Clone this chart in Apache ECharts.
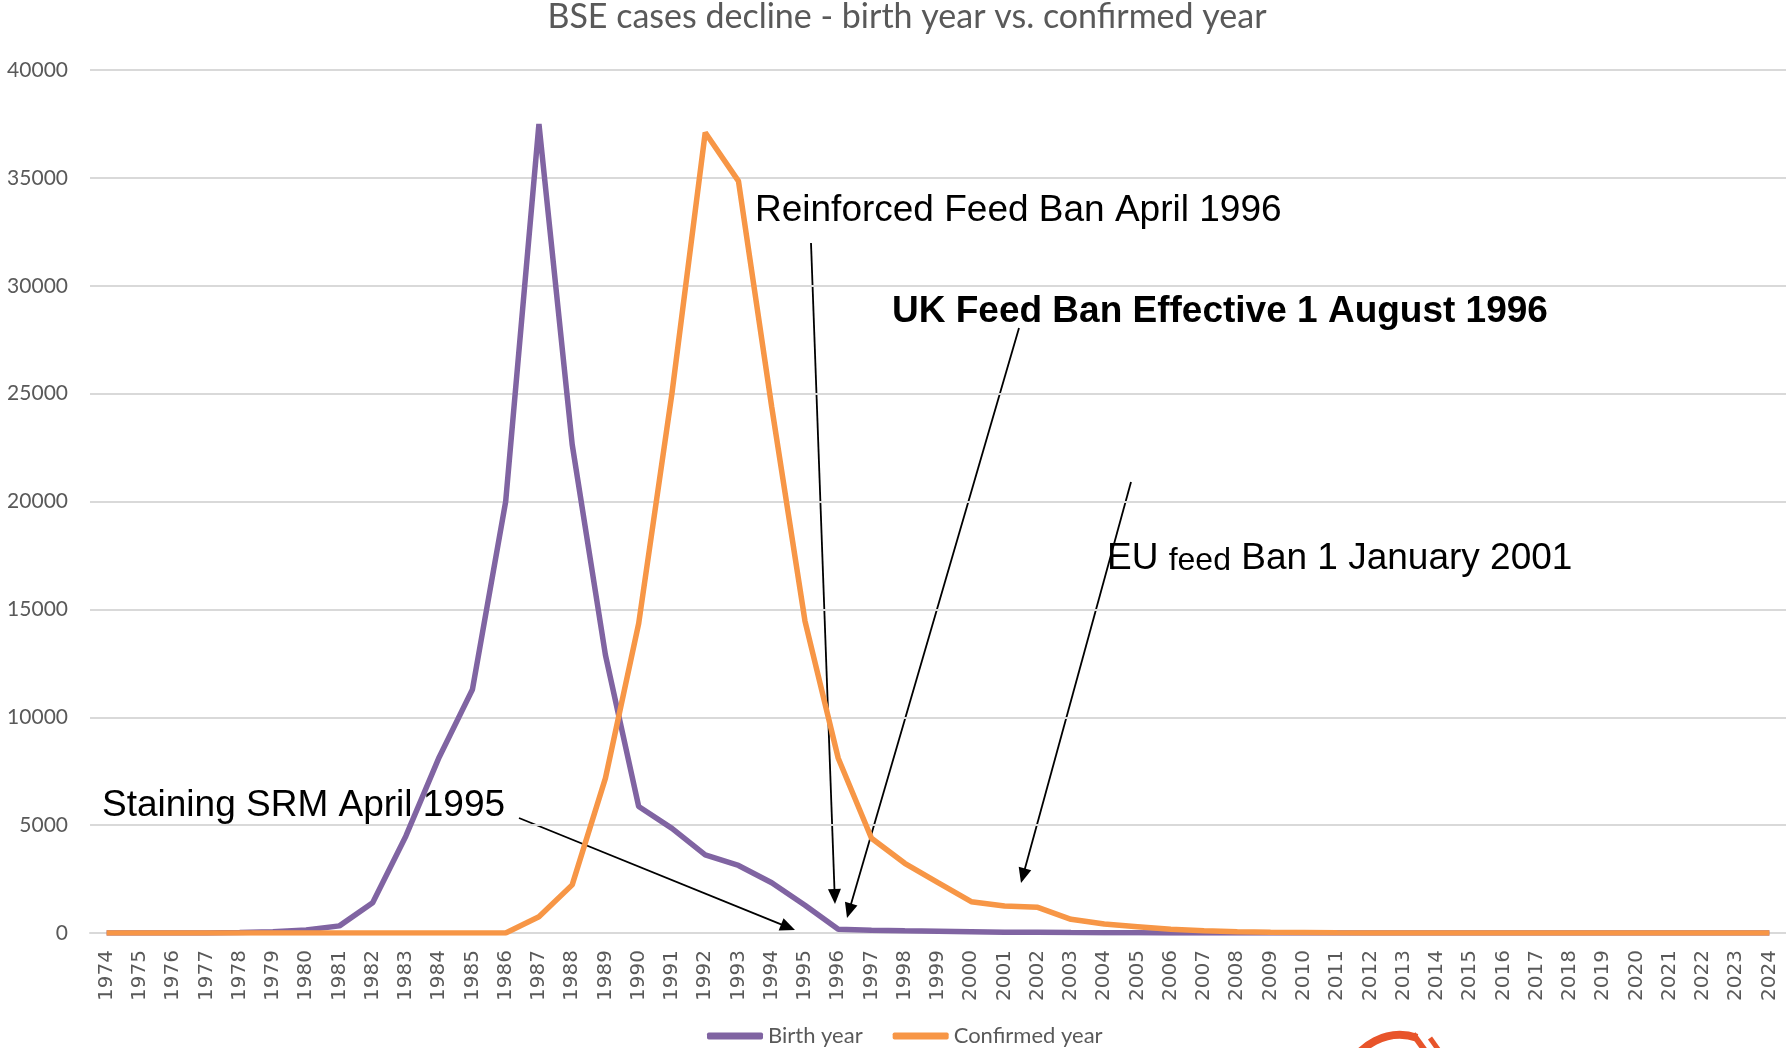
<!DOCTYPE html>
<html>
<head>
<meta charset="utf-8">
<script src="https://cdn.jsdelivr.net/npm/echarts@6/dist/echarts.min.js"></script>
<style>
html,body{margin:0;padding:0;background:#fff;}
#chart{width:1786px;height:1048px;}
</style>
</head>
<body>
<div id="chart"></div>
<script>
var years = ['1974','1975','1976','1977','1978','1979','1980','1981','1982','1983','1984','1985','1986','1987','1988','1989','1990','1991','1992','1993','1994','1995','1996','1997','1998','1999','2000','2001','2002','2003','2004','2005','2006','2007','2008','2009','2010','2011','2012','2013','2014','2015','2016','2017','2018','2019','2020','2021','2022','2023','2024'];
var birthYear = [0,0,0,0,20,60,140,330,1400,4500,8150,11290,20000,37500,22640,12880,5860,4850,3620,3130,2330,1290,170,130,100,80,60,40,30,20,15,10,5,3,2,1,0,0,0,0,0,0,0,0,0,0,0,0,0,0,0];
var confirmedYear = [0,0,0,0,0,0,0,0,0,0,0,0,0,755,2230,7180,14350,25010,37100,34850,24380,14460,8100,4390,3230,2330,1450,1250,1190,635,417,293,170,107,60,30,20,10,5,5,2,2,0,0,0,0,0,0,0,0,0];
var yTicks = {min: 0, max: 40000, interval: 5000};
var titleText = 'BSE cases decline - birth year vs. confirmed year';
var seriesNames = ['Birth year', 'Confirmed year'];

function arrow(x1, y1, x2, y2) {
  var dx = x2 - x1, dy = y2 - y1, len = Math.sqrt(dx*dx + dy*dy);
  var ux = dx/len, uy = dy/len, nx = -uy, ny = ux;
  var L = 15, W = 6.5;
  var bx = x2 - ux*L, by = y2 - uy*L;
  return [
    {type:'line', shape:{x1:x1, y1:y1, x2:x2 - ux*L*0.6, y2:y2 - uy*L*0.6}, style:{stroke:'#000', lineWidth:1.8}},
    {type:'polygon', shape:{points:[[x2,y2],[bx+nx*W, by+ny*W],[bx-nx*W, by-ny*W]]}, style:{fill:'#000'}}
  ];
}

var annFont = '"Liberation Sans", Arial, sans-serif';
var graphics = [
  {type:'text', x:755, y:211, style:{text:'Reinforced Feed Ban April 1996', fontSize:37, fontFamily:annFont, fill:'#000', align:'left', verticalAlign:'middle'}},
  {type:'text', x:892, y:312, style:{text:'UK Feed Ban Effective 1 August 1996', fontSize:37, fontWeight:'bold', fontFamily:annFont, fill:'#000', align:'left', verticalAlign:'middle'}},
  {type:'text', x:1107, y:556, style:{text:'{a|EU }{b|feed}{a| Ban 1 January 2001}', fill:'#000', align:'left', verticalAlign:'middle',
    rich:{a:{fontSize:37, fontFamily:annFont, fill:'#000', lineHeight:42, verticalAlign:'bottom'}, b:{fontSize:32, fontFamily:annFont, fill:'#000', lineHeight:42, verticalAlign:'bottom'}}}},
  {type:'text', x:102, y:806, style:{text:'Staining SRM April 1995', fontSize:37, fontFamily:annFont, fill:'#000', align:'left', verticalAlign:'middle'}},
  // logo fragment at bottom
  {type:'arc', shape:{cx:1400, cy:1090, r:55, startAngle:Math.PI*1.1, endAngle:Math.PI*1.6}, style:{stroke:'#E8542A', lineWidth:8, fill:null}},
  {type:'line', shape:{x1:1413, y1:1034, x2:1426, y2:1052}, style:{stroke:'#E8542A', lineWidth:6}},
  {type:'line', shape:{x1:1430, y1:1038, x2:1440, y2:1052}, style:{stroke:'#E8542A', lineWidth:5}}
];
graphics = graphics.concat(arrow(519, 818, 795, 930));
graphics = graphics.concat(arrow(811, 243, 835, 904));
graphics = graphics.concat(arrow(1019, 328, 847, 918));
graphics = graphics.concat(arrow(1131, 482, 1021, 883));

var chart = echarts.init(document.getElementById('chart'));
chart.setOption({
  animation: false,
  backgroundColor: '#fff',
  title: {
    text: titleText, left: 902, top: -5, textAlign: 'center',
    textStyle: {fontFamily: 'Lato', fontSize: 34, fontWeight: 'normal', color: '#595959'}
  },
  legend: {
    data: seriesNames, left: 702, top: 1020, itemWidth: 56, itemHeight: 7, itemGap: 30,
    icon: 'roundRect',
    textStyle: {fontFamily: 'Lato', fontSize: 22, color: '#595959'}
  },
  grid: {left: 90, right: 0, top: 70, bottom: 115, containLabel: false},
  xAxis: {
    type: 'category', data: years, boundaryGap: true,
    axisTick: {show: false},
    axisLine: {lineStyle: {color: '#D9D9D9', width: 2}},
    axisLabel: {rotate: 90, interval: 0, margin: 17, fontFamily: 'DejaVu Sans', fontSize: 20, color: '#595959'}
  },
  yAxis: {
    type: 'value', min: yTicks.min, max: yTicks.max, interval: yTicks.interval,
    axisLine: {show: false}, axisTick: {show: false},
    splitLine: {lineStyle: {color: '#D9D9D9', width: 2}},
    axisLabel: {margin: 22, fontFamily: 'Lato', fontSize: 21, color: '#595959', formatter: function (v) { return String(v); }}
  },
  series: [
    {name: seriesNames[0], type: 'line', data: birthYear, symbol: 'none', lineStyle: {color: '#8064A2', width: 5.5}, itemStyle: {color: '#8064A2'}},
    {name: seriesNames[1], type: 'line', data: confirmedYear, symbol: 'none', lineStyle: {color: '#F79646', width: 5.5}, itemStyle: {color: '#F79646'}}
  ],
  graphic: graphics
});
</script>
</body>
</html>
